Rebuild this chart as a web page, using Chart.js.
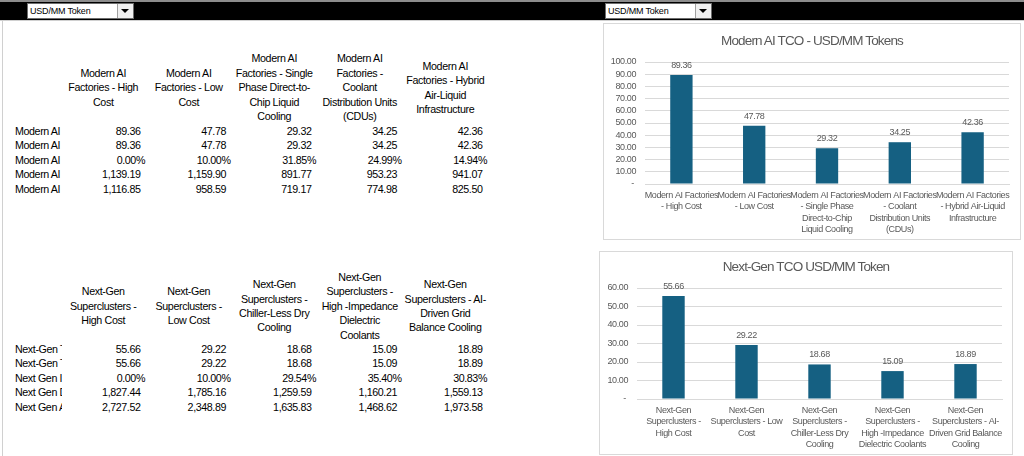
<!DOCTYPE html>
<html>
<head>
<meta charset="utf-8">
<script src="https://cdn.jsdelivr.net/npm/chart.js@4/dist/chart.umd.min.js"></script>
<style>
html, body { margin: 0; padding: 0; }
body { width: 1024px; height: 456px; position: relative; overflow: hidden; background: #fff;
  font-family: "Liberation Sans", Arial, sans-serif; }
.abs { position: absolute; }
#topline { left: 0; top: 0; width: 1024px; height: 2px; background: #8c8c8c; }
#band { left: 0; top: 2px; width: 1024px; height: 18px; background: #000; }
#bandline { left: 0; top: 20px; width: 1024px; height: 1px; background: #d0d0d0; }
#leftline { left: 2px; top: 21px; width: 1px; height: 435px; background: #d0d0d0; }
.dd { position: absolute; top: 3px; width: 107px; height: 16px; background: #fff; box-sizing: border-box;
  border: 1px solid #6d6d6d; font: 9px "Liberation Sans", sans-serif; letter-spacing: -0.2px; line-height: 14px; padding-left: 2px; color: #000; }
.dd .btn { position: absolute; right: 0; top: 0; width: 15px; height: 14px; background: #f0f0f0; border-left: 1px solid #a0a0a0; }
.dd .btn:after { content: ""; position: absolute; left: 3px; top: 5px; border-left: 4px solid transparent;
  border-right: 4px solid transparent; border-top: 4px solid #000; }
.cell { position: absolute; font-size: 10.7px; letter-spacing: -0.4px; color: #000; white-space: nowrap; line-height: 14.4px; height: 14.4px; }
.hdr { position: absolute; text-align: center; display: flex; align-items: center; justify-content: center;
  font-size: 10.7px; letter-spacing: -0.35px; line-height: 14.4px; color: #000; white-space: nowrap; }
.rowlab { overflow: hidden; }
.box { position: absolute; border: 1px solid #d9d9d9; box-sizing: border-box; background: #fff; }
.box canvas { position: absolute; left: 0; top: 0; }
.ctitle { position: absolute; left: 0; width: 100%; text-align: center; font-size: 13.5px; letter-spacing: -0.85px;
  color: #595959; white-space: nowrap; line-height: 16px; }
</style>
</head>
<body>
<div id="topline" class="abs"></div>
<div id="band" class="abs"></div>
<div id="bandline" class="abs"></div>
<div id="leftline" class="abs"></div>
<div class="dd" style="left:27px">USD/MM Token<div class="btn"></div></div>
<div class="dd" style="left:605px">USD/MM Token<div class="btn"></div></div>
<div id="tables"></div>
<div class="box" style="left:603px;top:23px;width:418px;height:217px">
  <canvas id="modernChart" width="416" height="215"></canvas>
  <div class="ctitle" id="modernTitle" style="top:9px"></div>
</div>
<div class="box" style="left:599px;top:251px;width:414px;height:204px">
  <canvas id="nextGenChart" width="412" height="202"></canvas>
  <div class="ctitle" id="nextGenTitle" style="top:7px"></div>
</div>
<script>
const FONT = '"Liberation Sans", Arial, sans-serif';

// Modern AI Factories
const modernTitle = "Modern AI TCO - USD/MM Tokens";
const modernCategories = ["Modern AI Factories - High Cost", "Modern AI Factories - Low Cost",
  "Modern AI Factories - Single Phase Direct-to-Chip Liquid Cooling",
  "Modern AI Factories - Coolant Distribution Units (CDUs)",
  "Modern AI Factories - Hybrid Air-Liquid Infrastructure"];
const modernHeaderLines = [
  ["Modern AI", "Factories - High", "Cost"],
  ["Modern AI", "Factories - Low", "Cost"],
  ["Modern AI", "Factories - Single", "Phase Direct-to-", "Chip Liquid", "Cooling"],
  ["Modern AI", "Factories -", "Coolant", "Distribution Units", "(CDUs)"],
  ["Modern AI", "Factories - Hybrid", "Air-Liquid", "Infrastructure"]];
const modernTickLines = [
  ["Modern AI Factories", "- High Cost"],
  ["Modern AI Factories", "- Low Cost"],
  ["Modern AI Factories", "- Single Phase", "Direct-to-Chip", "Liquid Cooling"],
  ["Modern AI Factories", "- Coolant", "Distribution Units", "(CDUs)"],
  ["Modern AI Factories", "- Hybrid Air-Liquid", "Infrastructure"]];
const modernRowLabels = ["Modern AI", "Modern AI", "Modern AI", "Modern AI", "Modern AI"];
const modernTco = [89.36, 47.78, 29.32, 34.25, 42.36];
const modernTco2 = [89.36, 47.78, 29.32, 34.25, 42.36];
const modernPct = [0.00, 10.00, 31.85, 24.99, 14.94];
const modernRow4 = [1139.19, 1159.90, 891.77, 953.23, 941.07];
const modernRow5 = [1116.85, 958.59, 719.17, 774.98, 825.50];

// Next-Gen Superclusters
const nextTitle = "Next-Gen TCO USD/MM Token";
const nextCategories = ["Next-Gen Superclusters - High Cost", "Next-Gen Superclusters - Low Cost",
  "Next-Gen Superclusters - Chiller-Less Dry Cooling",
  "Next-Gen Superclusters - High -Impedance Dielectric Coolants",
  "Next-Gen Superclusters - AI-Driven Grid Balance Cooling"];
const nextHeaderLines = [
  ["Next-Gen", "Superclusters -", "High Cost"],
  ["Next-Gen", "Superclusters -", "Low Cost"],
  ["Next-Gen", "Superclusters -", "Chiller-Less Dry", "Cooling"],
  ["Next-Gen", "Superclusters -", "High -Impedance", "Dielectric", "Coolants"],
  ["Next-Gen", "Superclusters - AI-", "Driven Grid", "Balance Cooling"]];
const nextTickLines = [
  ["Next-Gen", "Superclusters -", "High Cost"],
  ["Next-Gen", "Superclusters - Low", "Cost"],
  ["Next-Gen", "Superclusters -", "Chiller-Less Dry", "Cooling"],
  ["Next-Gen", "Superclusters -", "High -Impedance", "Dielectric Coolants"],
  ["Next-Gen", "Superclusters - AI-", "Driven Grid Balance", "Cooling"]];
const nextRowLabels = ["Next-Gen T", "Next-Gen T", "Next Gen II", "Next Gen D", "Next Gen A"];
const nextTco = [55.66, 29.22, 18.68, 15.09, 18.89];
const nextTco2 = [55.66, 29.22, 18.68, 15.09, 18.89];
const nextPct = [0.00, 10.00, 29.54, 35.40, 30.83];
const nextRow4 = [1827.44, 1785.16, 1259.59, 1160.21, 1559.13];
const nextRow5 = [2727.52, 2348.89, 1635.83, 1468.62, 1973.58];

const modernTicksY = [0, 100, 10];
const nextTicksY = [0, 60, 10];

// ---- tables ----
const COL0 = 60.5, COLW = 85.5, ROWH = 14.5;
const fmtNum = v => v.toLocaleString("en-US", { minimumFractionDigits: 2, maximumFractionDigits: 2 });
const fmtPct = v => v.toFixed(2) + "%";

function addDiv(cls, style, html) {
  const d = document.createElement("div");
  d.className = cls;
  d.setAttribute("style", style);
  d.innerHTML = html;
  document.getElementById("tables").appendChild(d);
}

function buildTable(headCenter, firstRow, headerLines, rowLabels, rows) {
  headerLines.forEach((lines, i) => {
    addDiv("hdr", `left:${COL0 + COLW * i}px;top:${headCenter - 45}px;width:${COLW}px;height:90px`,
      "<div>" + lines.join("<br>") + "</div>");
  });
  rows.forEach((r, ri) => {
    const top = firstRow + ROWH * ri - 7.2;
    addDiv("cell rowlab", `left:15px;top:${top}px;width:47px`, rowLabels[ri]);
    r.vals.forEach((v, i) => {
      const isPct = r.fmt === fmtPct;
      const w = COLW - (isPct ? 1 : 5.5);
      addDiv("cell", `left:${COL0 + COLW * i}px;top:${top}px;width:${w}px;text-align:right`, r.fmt(v));
    });
  });
}

buildTable(87.5, 131, modernHeaderLines, modernRowLabels, [
  { vals: modernTco, fmt: fmtNum }, { vals: modernTco2, fmt: fmtNum }, { vals: modernPct, fmt: fmtPct },
  { vals: modernRow4, fmt: fmtNum }, { vals: modernRow5, fmt: fmtNum }]);
buildTable(306, 349, nextHeaderLines, nextRowLabels, [
  { vals: nextTco, fmt: fmtNum }, { vals: nextTco2, fmt: fmtNum }, { vals: nextPct, fmt: fmtPct },
  { vals: nextRow4, fmt: fmtNum }, { vals: nextRow5, fmt: fmtNum }]);

// ---- charts ----
// tighter text so the Arial metrics come close to Excel's narrow font
const tightText = {
  id: "tightText",
  beforeUpdate(chart) { chart.ctx.letterSpacing = "-0.4px"; },
  beforeDraw(chart) { chart.ctx.letterSpacing = "-0.4px"; }
};

const barLabels = {
  id: "barLabels",
  afterDatasetsDraw(chart) {
    const ctx = chart.ctx;
    const ds = chart.data.datasets[0];
    ctx.save();
    ctx.font = "9px " + FONT;
    ctx.fillStyle = "#595959";
    ctx.textAlign = "center";
    ctx.textBaseline = "middle";
    chart.getDatasetMeta(0).data.forEach((bar, i) => {
      ctx.fillText(ds.data[i].toFixed(2), bar.x, bar.y - 9.5);
    });
    ctx.restore();
  }
};

function tcoChart(id, titleId, title, tickLines, values, yTicks, lay) {
  document.getElementById(titleId).textContent = title;
  return new Chart(document.getElementById(id), {
    type: "bar",
    data: {
      labels: tickLines,
      datasets: [{ data: values, backgroundColor: "#156082", barPercentage: 0.307, categoryPercentage: 1 }]
    },
    options: {
      responsive: false,
      animation: false,
      devicePixelRatio: 1,
      layout: { padding: { left: 0, right: lay.right, top: lay.top, bottom: 0 } },
      plugins: {
        legend: { display: false },
        tooltip: { enabled: false },
        title: { display: false }
      },
      scales: {
        x: {
          grid: { display: false, drawTicks: false },
          border: { color: "#d9d9d9" },
          ticks: { autoSkip: false, maxRotation: 0, minRotation: 0, padding: 6, color: "#595959",
            font: { family: FONT, size: 9, lineHeight: 1.25 } },
          afterFit(s) { s.height = lay.xHeight; s.paddingLeft = 0; s.paddingRight = 0; }
        },
        y: {
          min: yTicks[0], max: yTicks[1],
          grid: { color: "#d9d9d9", drawTicks: false },
          border: { display: false },
          ticks: { autoSkip: false, stepSize: yTicks[2], padding: 9, color: "#595959",
            font: { family: FONT, size: 9 },
            callback: v => v === 0 ? "- " : v.toFixed(2) },
          afterFit(s) { s.width = lay.yWidth; s.paddingTop = 0; s.paddingBottom = 0; }
        }
      }
    },
    plugins: [tightText, barLabels]
  });
}

tcoChart("modernChart", "modernTitle", modernTitle, modernTickLines, modernTco, modernTicksY,
  { right: 11, top: 38, xHeight: 55, yWidth: 41 });
tcoChart("nextGenChart", "nextGenTitle", nextTitle, nextTickLines, nextTco, nextTicksY,
  { right: 10, top: 36, xHeight: 55, yWidth: 37 });
</script>
</body>
</html>
